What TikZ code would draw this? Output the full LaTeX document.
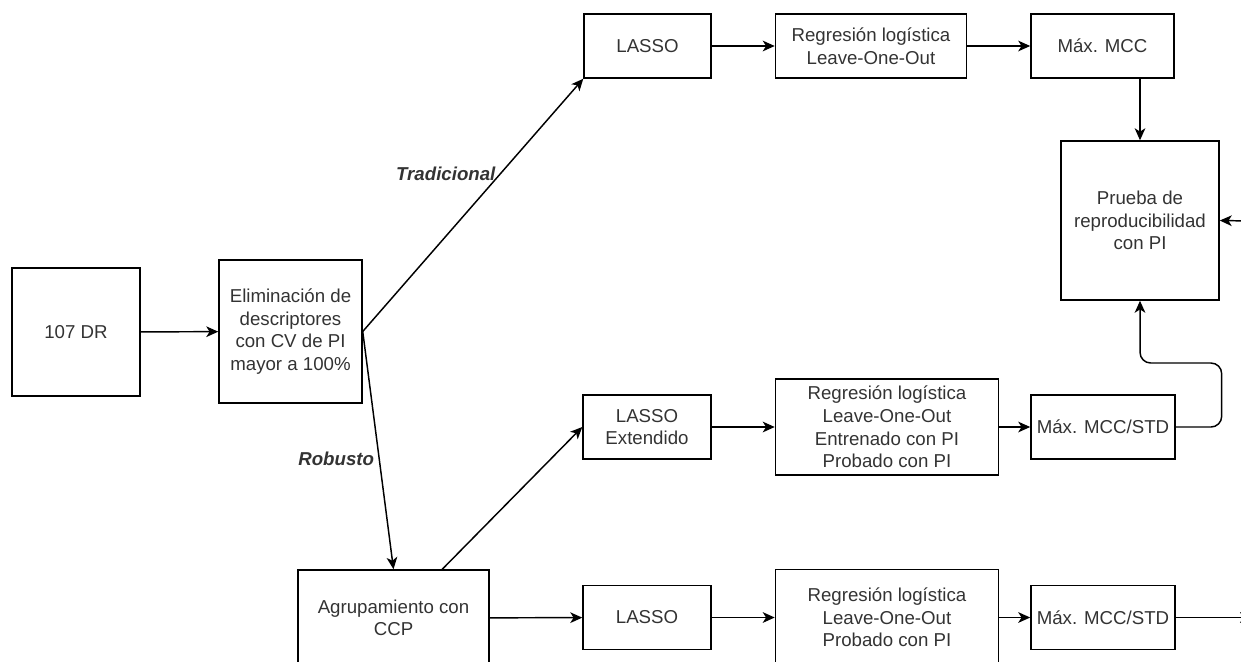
\documentclass[tikz,border=0pt]{standalone}
\usepackage{fontspec}
\setmainfont{Liberation Sans}
\usetikzlibrary{arrows.meta,positioning}

\begin{document}
\begin{tikzpicture}[x=0.75pt,y=-0.75pt,>={Stealth[length=9pt,width=8pt,inset=2.5pt]},line width=1.1pt,
  block node/.style={rectangle,draw,align=center,inner sep=2pt,font=\fontsize{14pt}{16.9pt}\selectfont,text=black!80},
  path label/.style={font=\fontsize{14pt}{16.9pt}\selectfont\bfseries\itshape,text=black!80}]

            \clip (0,0) rectangle (1241,661);

            \node[block node, minimum width=96pt, minimum height=96pt] (1) at (76,332) {107 DR};
            \node[block node, minimum width=107.25pt, minimum height=107.25pt] (2) at (290.5,331.5) {Eliminación de\\descriptores\\con CV de PI\\mayor a 100\%};
            \node[block node, minimum width=143.25pt, minimum height=72pt] (3) at (393.5,618) {Agrupamiento con\\CCP};

            \node[block node, minimum width=95.25pt, minimum height=48pt] (4) at (647.5,46) {LASSO};
            \node[block node, minimum width=143.25pt, minimum height=48pt] (5) [right=47.25pt of 4] {Regresión logística\\Leave-One-Out};
            \node[block node, minimum width=107.25pt, minimum height=48pt] (6) [right=47.25pt of 5] {Máx. MCC};
            \node[block node, minimum width=118.5pt, minimum height=119.25pt] (7) at (1140,220.5) {Prueba de\\reproducibilidad\\con PI};

            \node[block node, minimum width=96pt, minimum height=48pt] (8) at (647,427) {LASSO\\Extendido};
            \node[block node, minimum width=167.25pt, minimum height=72pt] (9) [right=47.25pt of 8] {Regresión logística\\Leave-One-Out\\Entrenado con PI\\Probado con PI};
            \node[block node, minimum width=108pt, minimum height=48pt] (10) [right=23.25pt of 9] {Máx. MCC/STD};

            \node[block node, minimum width=96pt, minimum height=48pt] (11) at (647,617.5) {LASSO};
            \node[block node, minimum width=167.25pt, minimum height=72pt] (12) [right=47.25pt of 11] {Regresión logística\\Leave-One-Out\\Probado con PI};
            \node[block node, minimum width=108pt, minimum height=48pt] (13) [right=23.25pt of 12] {Máx. MCC/STD};

            \coordinate (c1) at (1250,221);
            \coordinate (c2) at (1252,617.5);

            \draw[->] (1) -- (2);
            \draw[->] (2.east) -- node[path label, pos=0.625, left]{Tradicional} (4.south west);
            \draw[->] (2.east) -- node[path label, pos=0.536, left]{Robusto} (3.north);
            \draw[->] (3.45) -- (8.west);
            \draw[->] (3) -- (11);

            \draw[->] (4) -- (5);
            \draw[->] (5) -- (6);
            \draw[->] (6.south -| 7.north) -- (7.north);

            \draw[->] (8) -- (9);
            \draw[->] (9) -- (10);
            \draw[->, rounded corners=8pt] (10.east) -- ++(46,0) -- ++(0,-64) -| (7.south);

            \draw[->] (11) -- (12);
            \draw[->] (12) -- (13);
            \draw[->] (13) -- (c2);
            \draw[->] (c1) -- (7.east);

            ;
        \end{tikzpicture}
\end{document}
